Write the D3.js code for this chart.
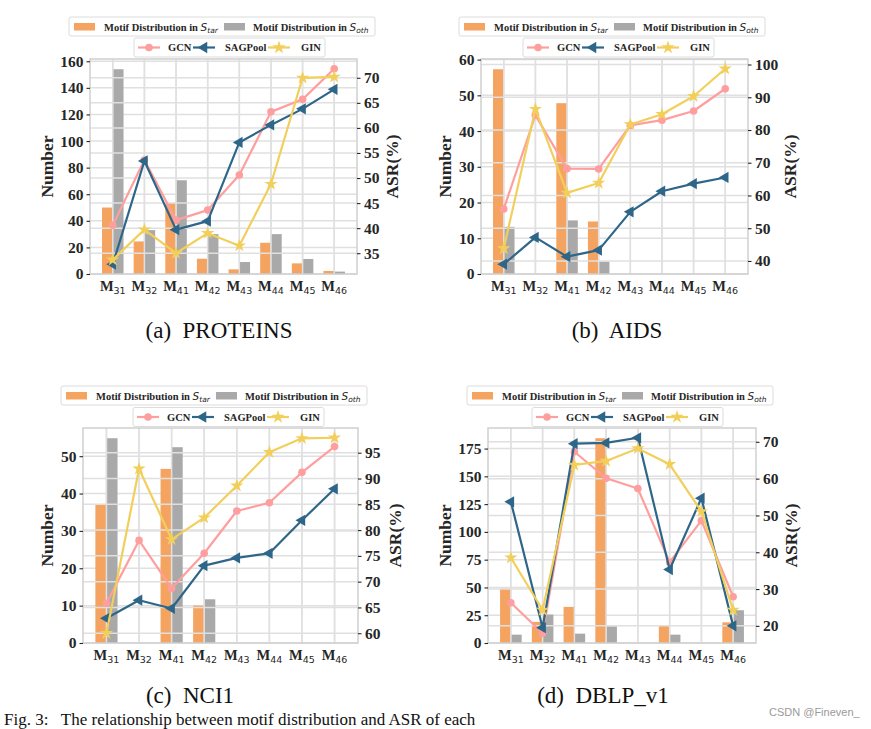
<!DOCTYPE html>
<html><head><meta charset="utf-8">
<script src="https://cdn.jsdelivr.net/npm/d3@7"></script>
<style>
body{margin:0;background:#fff;}
svg{display:block;}
</style></head>
<body>
<svg id="chart" width="871" height="729"></svg>
<script>
// ---------- DATA ----------
const motifs = ["31","32","41","42","43","44","45","46"];

const proteinsStar = [50, 24.5, 53.5, 11.5, 3.5, 23.5, 8, 2.3];
const proteinsOth  = [154, 33, 70.5, 30, 9, 30, 11.3, 1.8];
const proteinsGCN  = [40.6, 53.6, 41.6, 43.6, 50.6, 63.2, 65.7, 71.8];
const proteinsSAG  = [32.8, 53.4, 39.7, 41.4, 57.1, 60.6, 63.8, 67.7];
const proteinsGIN  = [33.7, 39.7, 35.0, 39.0, 36.5, 48.8, 70.0, 70.2];
const proteinsLeftTicks  = [0, 20, 40, 60, 80, 100, 120, 140, 160];
const proteinsRightTicks = [35, 40, 45, 50, 55, 60, 65, 70];

const aidsStar = [57.3, 0, 47.8, 14.7, 0, 0, 0, 0];
const aidsOth  = [13.2, 0, 15, 3.5, 0, 0, 0, 0];
const aidsGCN  = [55.9, 84.5, 68.2, 68.1, 81.4, 83.0, 85.8, 92.6];
const aidsSAG  = [39.0, 47.2, 41.3, 43.3, 55.0, 61.3, 63.6, 65.5];
const aidsGIN  = [43.8, 86.4, 60.8, 63.8, 81.7, 84.8, 90.3, 98.7];
const aidsLeftTicks  = [0, 10, 20, 30, 40, 50, 60];
const aidsRightTicks = [40, 50, 60, 70, 80, 90, 100];

const nci1Star = [37.1, 0, 46.6, 10, 0, 0, 0, 0];
const nci1Oth  = [54.8, 0, 52.4, 11.7, 0, 0, 0, 0];
const nci1GCN  = [65.8, 78.0, 68.7, 75.5, 83.7, 85.3, 91.2, 96.2];
const nci1SAG  = [62.9, 66.4, 64.8, 73.1, 74.6, 75.5, 81.9, 88.0];
const nci1GIN  = [60.0, 91.9, 78.2, 82.4, 88.6, 95.1, 97.8, 97.9];
const nci1LeftTicks  = [0, 10, 20, 30, 40, 50];
const nci1RightTicks = [60, 65, 70, 75, 80, 85, 90, 95];

const dblpStar = [49, 19, 32.5, 184.3, 0, 16.2, 0, 18.6];
const dblpOth  = [7.5, 25.6, 8.4, 15, 0, 7.5, 0, 29.5];
const dblpGCN  = [26.3, 18.0, 67.3, 60.1, 57.3, 37.3, 48.6, 27.9];
const dblpSAG  = [53.7, 19.5, 69.5, 69.7, 71.1, 35.3, 54.7, 20.0];
const dblpGIN  = [38.5, 24.3, 63.7, 64.8, 68.2, 63.9, 51.1, 24.3];
const dblpLeftTicks  = [0, 25, 50, 75, 100, 125, 150, 175];
const dblpRightTicks = [20, 30, 40, 50, 60, 70];

const captions = ["(a)  PROTEINS", "(b)  AIDS", "(c)  NCI1", "(d)  DBLP_v1"];
const seriesNames = ["GCN", "SAGPool", "GIN"];

// ---------- STYLE / LAYOUT ----------
const C = {
  star: "#F4A460", oth: "#A9A9A9",
  gcn: "#FF9E9E", sag: "#2E6689", gin: "#F2CF5B",
  grid: "#E0E0E0", spine: "#D0D0D0", text: "#262626"
};
const SERIF = "'Liberation Serif','Times New Roman',serif";
const SANS = "'DejaVu Sans',sans-serif";

const panels = [
  {star: proteinsStar, oth: proteinsOth, gcn: proteinsGCN, sag: proteinsSAG, gin: proteinsGIN,
   lt: proteinsLeftTicks, rt: proteinsRightTicks,
   L: 90, R: 357, T: 59, B: 274, leg1: [69, 17], leg2: [134, 38],
   ylabDx: -43, yrlabDx: 35, cap: [219, 338]},
  {star: aidsStar, oth: aidsOth, gcn: aidsGCN, sag: aidsSAG, gin: aidsGIN,
   lt: aidsLeftTicks, rt: aidsRightTicks,
   L: 481, R: 748, T: 59, B: 274, leg1: [459, 17], leg2: [523, 38],
   ylabDx: -36, yrlabDx: 42, cap: [617, 338]},
  {star: nci1Star, oth: nci1Oth, gcn: nci1GCN, sag: nci1SAG, gin: nci1GIN,
   lt: nci1LeftTicks, rt: nci1RightTicks,
   L: 83, R: 358, T: 428, B: 643, leg1: [61, 386], leg2: [133, 407.5],
   ylabDx: -36, yrlabDx: 36.5, cap: [190, 703]},
  {star: dblpStar, oth: dblpOth, gcn: dblpGCN, sag: dblpSAG, gin: dblpGIN,
   lt: dblpLeftTicks, rt: dblpRightTicks,
   L: 488, R: 756, T: 428, B: 643, leg1: [467, 386], leg2: [532, 407.5],
   ylabDx: -43.5, yrlabDx: 34.5, cap: [603, 703]}
];

const svg = d3.select("#chart");
svg.append("rect").attr("width", 871).attr("height", 729).attr("fill", "#fff");

function marker(sel, type, color) {
  if (type === "gcn") {
    sel.append("circle").attr("r", 3.8).attr("fill", color);
  } else if (type === "sag") {
    sel.append("path").attr("d", d3.symbol(d3.symbolTriangle, 55)())
      .attr("transform", "rotate(-90)").attr("fill", color);
  } else {
    sel.append("path").attr("d", d3.symbol(d3.symbolStar, 55)()).attr("fill", color);
  }
}

function drawPanel(p, idx) {
  const g = svg.append("g");
  const x = d3.scaleLinear().domain([-0.72, 7.72]).range([p.L, p.R]);
  const barMax = d3.max(p.star.concat(p.oth));
  const yL = d3.scaleLinear().domain([0, barMax * 1.05]).range([p.B, p.T]);
  const all = p.gcn.concat(p.sag, p.gin);
  const mn = d3.min(all), mx = d3.max(all), rg = mx - mn;
  const yR = d3.scaleLinear().domain([mn - 0.05 * rg, mx + 0.05 * rg]).range([p.B, p.T]);
  const idxs = d3.range(motifs.length);

  // left grid (below bars)
  g.selectAll(".gl").data(p.lt).join("line")
    .attr("x1", p.L).attr("x2", p.R).attr("y1", d => yL(d)).attr("y2", d => yL(d))
    .attr("stroke", C.grid).attr("stroke-width", 1.5);
  g.selectAll(".gv").data(idxs).join("line")
    .attr("x1", i => x(i)).attr("x2", i => x(i)).attr("y1", p.T).attr("y2", p.B)
    .attr("stroke", C.grid).attr("stroke-width", 1.5);

  // bars
  const bw = 0.33;
  g.selectAll(".bs").data(idxs).join("rect")
    .attr("x", i => x(i - 0.34)).attr("width", x(bw) - x(0))
    .attr("y", i => yL(p.star[i])).attr("height", i => yL(0) - yL(p.star[i]))
    .attr("fill", C.star);
  g.selectAll(".bo").data(idxs).join("rect")
    .attr("x", i => x(i + 0.01)).attr("width", x(bw) - x(0))
    .attr("y", i => yL(p.oth[i])).attr("height", i => yL(0) - yL(p.oth[i]))
    .attr("fill", C.oth);

  // right grid (twin axis, above bars)
  g.selectAll(".gr").data(p.rt).join("line")
    .attr("x1", p.L).attr("x2", p.R).attr("y1", d => yR(d)).attr("y2", d => yR(d))
    .attr("stroke", C.grid).attr("stroke-width", 1.5);
  g.selectAll(".gv2").data(idxs).join("line")
    .attr("x1", i => x(i)).attr("x2", i => x(i)).attr("y1", p.T).attr("y2", p.B)
    .attr("stroke", C.grid).attr("stroke-width", 1.5);

  // spines
  g.append("rect").attr("x", p.L).attr("y", p.T).attr("width", p.R - p.L).attr("height", p.B - p.T)
    .attr("fill", "none").attr("stroke", C.spine).attr("stroke-width", 1.5);

  // lines
  const series = [["gcn", p.gcn, C.gcn], ["sag", p.sag, C.sag], ["gin", p.gin, C.gin]];
  const line = d3.line().x((d, i) => x(i)).y(d => yR(d));
  series.forEach(([key, vals, col]) => {
    g.append("path").attr("d", line(vals)).attr("fill", "none")
      .attr("stroke", col).attr("stroke-width", 2.2).attr("stroke-linejoin", "round");
    const m = g.selectAll(".m" + key).data(vals).join("g")
      .attr("transform", (d, i) => `translate(${x(i)},${yR(d)})`);
    marker(m, key, col);
  });

  // axes
  const axL = g.append("g").attr("transform", `translate(${p.L},0)`)
    .call(d3.axisLeft(yL).tickValues(p.lt).tickSize(3.5).tickPadding(3));
  const axR = g.append("g").attr("transform", `translate(${p.R},0)`)
    .call(d3.axisRight(yR).tickValues(p.rt).tickSize(3.5).tickPadding(3.5));
  [axL, axR].forEach(a => {
    a.select(".domain").remove();
    a.selectAll(".tick line").attr("stroke", C.text).attr("stroke-width", 1.1);
    a.selectAll(".tick text").attr("font-family", SERIF).attr("font-weight", "bold")
      .attr("font-size", 15.5).attr("fill", C.text);
  });

  // x tick labels
  const xl = g.selectAll(".xl").data(idxs).join("text")
    .attr("x", i => x(i)).attr("y", p.B + 17).attr("text-anchor", "middle").attr("fill", C.text);
  xl.append("tspan").attr("font-family", SERIF).attr("font-weight", "bold").attr("font-size", 14.5).text("M");
  xl.append("tspan").attr("font-family", SANS).attr("font-size", 9.5).attr("dy", 2.5).text(i => motifs[i]);

  // axis labels
  const cy = (p.T + p.B) / 2;
  g.append("text").attr("transform", `translate(${p.L + p.ylabDx},${cy}) rotate(-90)`)
    .attr("text-anchor", "middle").attr("dominant-baseline", "central")
    .attr("font-family", SERIF).attr("font-weight", "bold").attr("font-size", 17.5)
    .attr("fill", C.text).text("Number");
  g.append("text").attr("transform", `translate(${p.R + p.yrlabDx},${cy}) rotate(-90)`)
    .attr("text-anchor", "middle").attr("dominant-baseline", "central")
    .attr("font-family", SERIF).attr("font-weight", "bold").attr("font-size", 17.5)
    .attr("fill", C.text).text("ASR(%)");

  // legend 1 (bars)
  const l1 = g.append("g").attr("transform", `translate(${p.leg1[0]},${p.leg1[1]})`);
  l1.append("rect").attr("width", 306).attr("height", 19).attr("rx", 2)
    .attr("fill", "#fff").attr("stroke", "#DCDCDC").attr("stroke-width", 1);
  const barLeg = [[C.star, 5, 35, "tar"], [C.oth, 155, 184, "oth"]];
  barLeg.forEach(([col, px, tx, sub]) => {
    l1.append("rect").attr("x", px).attr("y", 6).attr("width", 21).attr("height", 7.5).attr("fill", col);
    const t = l1.append("text").attr("x", tx).attr("y", 13.5).attr("fill", C.text);
    t.append("tspan").attr("font-family", SERIF).attr("font-weight", "bold").attr("font-size", 10.5)
      .text("Motif Distribution in ");
    t.append("tspan").attr("font-family", SANS).attr("font-style", "italic").attr("font-size", 10.5).text("S");
    t.append("tspan").attr("font-family", SANS).attr("font-style", "italic").attr("font-size", 7.5)
      .attr("dy", 2).text(sub);
  });

  // legend 2 (lines)
  const l2 = g.append("g").attr("transform", `translate(${p.leg2[0]},${p.leg2[1]})`);
  l2.append("rect").attr("width", 191).attr("height", 19).attr("rx", 2)
    .attr("fill", "#fff").attr("stroke", "#DCDCDC").attr("stroke-width", 1);
  const lineLeg = [["gcn", C.gcn, 4, 34], ["sag", C.sag, 59, 91], ["gin", C.gin, 134, 167]];
  lineLeg.forEach(([key, col, lx, tx], k) => {
    l2.append("line").attr("x1", lx).attr("x2", lx + 22).attr("y1", 9.5).attr("y2", 9.5)
      .attr("stroke", col).attr("stroke-width", 2.2);
    const m = l2.append("g").attr("transform", `translate(${lx + 11},9.5)`);
    marker(m, key, col);
    l2.append("text").attr("x", tx).attr("y", 13.3).attr("font-family", SERIF)
      .attr("font-weight", "bold").attr("font-size", 10.5).attr("fill", C.text).text(seriesNames[k]);
  });

  // caption
  svg.append("text").attr("x", p.cap[0]).attr("y", p.cap[1]).attr("text-anchor", "middle")
    .attr("font-family", SERIF).attr("font-size", 23).attr("fill", "#111")
    .style("white-space", "pre").text(captions[idx]);
}

panels.forEach(drawPanel);

// figure caption (at the bottom edge) and watermark
svg.append("text").attr("x", 4).attr("y", 725).attr("font-family", SERIF).attr("font-size", 17)
  .attr("fill", "#111").style("white-space", "pre")
  .text("Fig. 3:   The relationship between motif distribution and ASR of each");
svg.append("text").attr("x", 769).attr("y", 716).attr("font-family", "'Liberation Sans',Arial,sans-serif")
  .attr("font-size", 11).attr("fill", "#9a9a9a").text("CSDN @Fineven_");
</script>
</body></html>
